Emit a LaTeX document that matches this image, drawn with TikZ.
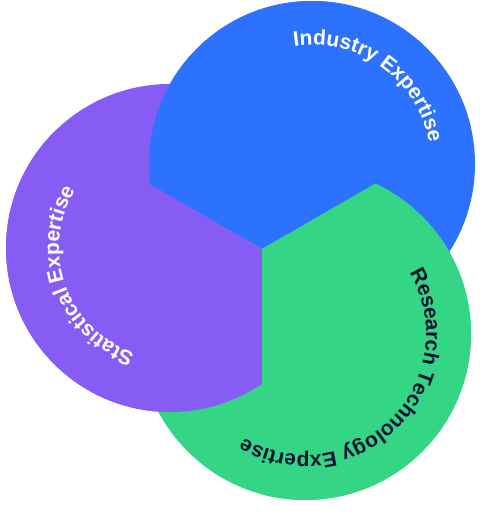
\documentclass[tikz,border=0pt]{standalone}
\usepackage{fontspec}
\newfontfamily\lblfont{Liberation Sans}
\usetikzlibrary{decorations.text,calc}
\definecolor{cblue}{HTML}{2C72FE}
\definecolor{cpurple}{HTML}{875CF5}
\definecolor{cgreen}{HTML}{34D585}
\definecolor{cnavy}{HTML}{0B1533}
\tikzset{
  arclabel/.style={decorate,decoration={text along path,text align=center,
     text color=#1}},
}
\newcommand{\lblstyle}{\lblfont\bfseries\fontsize{21}{25}\selectfont}
\begin{document}
\begin{tikzpicture}[x=1pt,y=1pt]
\useasboundingbox (0,0) rectangle (492,519);
\coordinate (C) at (262,270);
\coordinate (B) at (312,355);
\coordinate (P) at (170,271);
\coordinate (G) at (305,185);
% full discs
\fill[cblue] (B) circle[radius=163pt];
\fill[cpurple] (P) circle[radius=164pt];
\fill[cgreen] (G) circle[radius=166pt];
% each disc on top inside its own wedge
\begin{scope}
  \clip (C) -- ($(C)+(150:500pt)$) -- ($(C)+(90:500pt)$) -- ($(C)+(30:500pt)$) -- cycle;
  \fill[cblue] (B) circle[radius=163pt];
\end{scope}
\begin{scope}
  \clip (C) -- ($(C)+(150:500pt)$) -- ($(C)+(210:500pt)$) -- ($(C)+(270:500pt)$) -- cycle;
  \fill[cpurple] (P) circle[radius=164pt];
\end{scope}
\begin{scope}
  \clip (C) -- ($(C)+(270:500pt)$) -- ($(C)+(330:500pt)$) -- ($(C)+(30:500pt)$) -- cycle;
  \fill[cgreen] (G) circle[radius=166pt];
\end{scope}
% labels
\path[arclabel=white,decoration={text={|\lblstyle|Industry Expertise}}]
  ([shift={(B)}]134.5:119pt) arc[start angle=134.5,end angle=-25.5,radius=119pt];
\path[arclabel=white,decoration={text={|\lblstyle|Statistical Expertise}}]
  ([shift={(P)}]280:111pt) arc[start angle=280,end angle=120,radius=111pt];
\path[arclabel=cnavy,decoration={text={|\lblstyle|Research Technology Expertise}}]
  ([shift={(G)}]45:121pt) arc[start angle=45,end angle=-135,radius=121pt];
\end{tikzpicture}
\end{document}
